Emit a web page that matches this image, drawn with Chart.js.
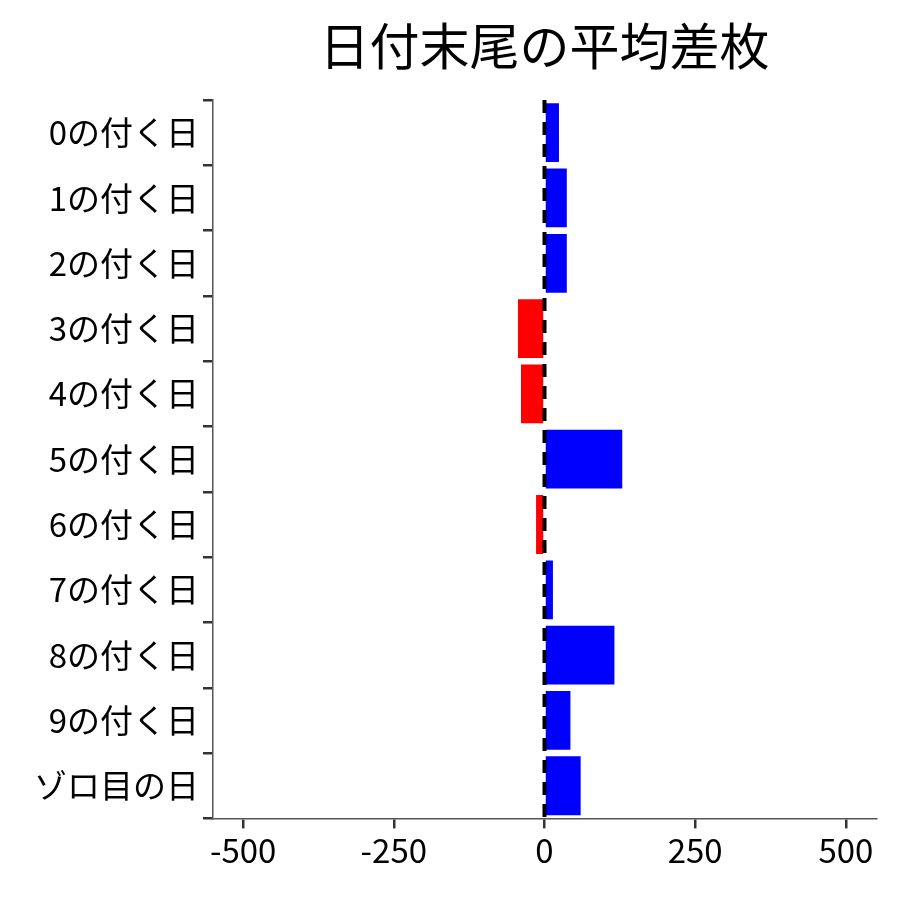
<!DOCTYPE html>
<html>
<head>
<meta charset="utf-8">
<script src="https://cdn.jsdelivr.net/npm/chart.js@4"></script>
<style>body{margin:0;background:#fff}</style>
</head>
<body>
<canvas id="c" width="900" height="900"></canvas>
<script>
// data
var categories = ['0の付く日','1の付く日','2の付く日','3の付く日','4の付く日','5の付く日','6の付く日','7の付く日','8の付く日','9の付く日','ゾロ目の日'];
var diffValues = [24, 37, 37, -44, -39, 129, -14, 14, 116, 43, 60];
var xTicks = [-500, -250, 0, 250, 500];
var titleText = '日付末尾の平均差枚';

var FONT = '"Noto Sans CJK JP", "Noto Sans", sans-serif';

// dashed zero line + title centered over the plot
var extras = {
    id: 'extras',
    afterDatasetsDraw: function (chart) {
        var ctx = chart.ctx, a = chart.chartArea;
        var x0 = chart.scales.x.getPixelForValue(0);
        ctx.save();
        ctx.strokeStyle = '#000';
        ctx.lineWidth = 4;
        ctx.setLineDash([13, 9]);
        ctx.beginPath();
        ctx.moveTo(x0, a.top);
        ctx.lineTo(x0, a.bottom);
        ctx.stroke();
        ctx.setLineDash([]);
        ctx.fillStyle = '#000';
        ctx.font = '50px ' + FONT;
        ctx.textAlign = 'center';
        ctx.textBaseline = 'middle';
        ctx.fillText(titleText, (a.left + a.right) / 2, 46);
        ctx.restore();
    }
};

var ctx = document.getElementById('c').getContext('2d');
new Chart(ctx, {
    type: 'bar',
    data: {
        labels: categories,
        datasets: [{
            data: diffValues,
            backgroundColor: diffValues.map(function (v) { return v < 0 ? '#ff0000' : '#0000ff'; }),
            barPercentage: 0.9,
            categoryPercentage: 1.0
        }]
    },
    options: {
        indexAxis: 'y',
        responsive: false,
        animation: false,
        layout: { padding: { top: 100, right: 24, bottom: 28, left: 30 } },
        plugins: { legend: { display: false }, tooltip: { enabled: false } },
        scales: {
            x: {
                min: -550, max: 550,
                afterBuildTicks: function (s) { s.ticks = xTicks.map(function (v) { return { value: v }; }); },
                grid: { display: true, drawOnChartArea: false, drawTicks: true, tickLength: 10, tickColor: '#333', lineWidth: 2.5 },
                border: { display: true, color: '#555', width: 1.5 },
                ticks: { color: '#000', font: { size: 33, family: FONT }, padding: 2, maxRotation: 0 }
            },
            y: {
                grid: { display: true, drawOnChartArea: false, drawTicks: true, tickLength: 10, tickColor: '#333', lineWidth: 2.5 },
                border: { display: true, color: '#555', width: 1.5 },
                ticks: { color: '#000', font: { size: 33, family: FONT }, padding: 4 }
            }
        }
    },
    plugins: [extras]
});
</script>
</body>
</html>
